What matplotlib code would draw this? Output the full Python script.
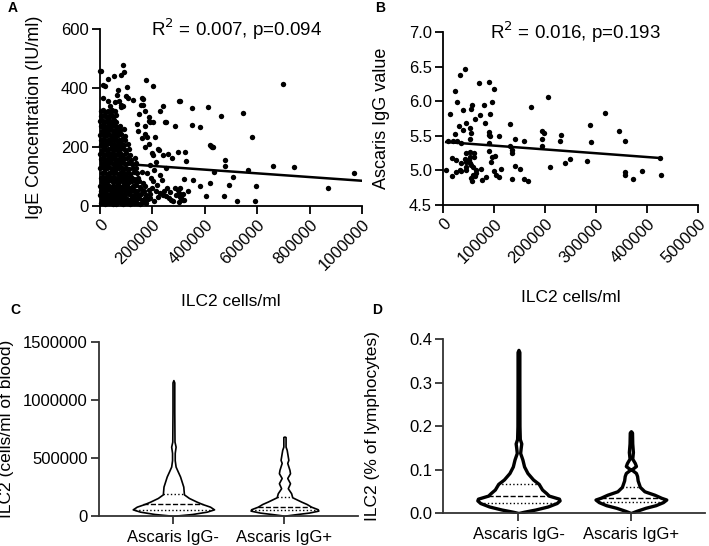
import matplotlib
matplotlib.use("Agg")
import matplotlib.pyplot as plt
import numpy as np

# ---- panel A: ILC2 cells/ml vs IgE (x in thousands of cells/ml, IgE IU/ml)
A_POINTS = [
    (3, 9), (11, 14), (19, 6), (26, 12), (34, 8), (41, 15), (48, 5), (57, 11), (63, 7), (72, 13), (80, 9),
    (88, 6), (95, 14), (104, 10), (113, 5), (121, 12), (130, 8), (142, 11), (151, 6), (163, 13), (176, 9),
    (6, 24), (14, 20), (23, 27), (30, 22), (38, 26), (46, 21), (52, 28), (61, 23), (69, 25), (77, 20),
    (85, 27), (92, 22), (101, 26), (109, 21), (118, 24), (127, 28), (138, 22), (149, 26), (160, 20), (170, 25), (183, 23),
    (2, 38), (9, 41), (17, 35), (25, 40), (33, 36), (44, 42), (50, 37), (58, 40), (66, 35), (74, 41), (83, 38),
    (90, 36), (99, 42), (112, 39), (124, 35), (133, 41), (146, 37), (158, 40), (174, 36), (190, 39),
    (5, 52), (13, 55), (21, 50), (29, 56), (37, 53), (45, 51), (54, 55), (62, 50), (71, 54), (79, 52),
    (87, 56), (96, 51), (105, 54), (117, 50), (129, 55), (141, 52), (156, 56), (168, 51), (185, 54),
    (1, 66), (10, 63), (18, 69), (27, 64), (35, 68), (43, 62), (51, 67), (60, 65), (68, 70), (76, 63),
    (86, 67), (94, 64), (103, 69), (115, 62), (126, 66), (139, 70), (152, 64), (171, 67),
    (7, 80), (15, 85), (24, 79), (31, 83), (40, 86), (49, 81), (57, 84), (65, 78), (73, 82), (82, 86),
    (91, 79), (100, 83), (110, 80), (122, 85), (136, 81), (150, 84), (165, 78),
    (3, 95), (12, 99), (20, 93), (28, 97), (36, 100), (44, 94), (53, 98), (62, 92), (70, 96), (79, 100),
    (88, 93), (97, 97), (108, 95), (119, 99), (131, 92), (144, 96),
    (8, 111), (16, 115), (25, 109), (33, 113), (42, 116), (50, 110), (59, 114), (67, 108), (75, 112),
    (84, 116), (93, 110), (104, 113), (116, 109), (128, 115), (143, 111), (160, 114),
    (2, 127), (11, 131), (19, 125), (27, 129), (36, 132), (45, 126), (54, 130), (63, 124), (71, 128),
    (80, 132), (89, 126), (99, 130), (112, 125), (125, 129), (138, 127),
    (6, 143), (14, 147), (22, 141), (31, 145), (39, 148), (48, 142), (56, 146), (65, 140), (74, 144),
    (83, 148), (94, 142), (107, 146), (121, 141), (137, 145),
    (4, 159), (12, 163), (20, 157), (29, 161), (37, 164), (46, 158), (55, 162), (63, 156), (72, 160),
    (81, 164), (92, 158), (104, 162), (118, 157), (135, 161),
    (1, 175), (9, 179), (17, 173), (26, 177), (34, 180), (43, 174), (51, 178), (60, 172), (69, 176),
    (78, 180), (88, 174), (101, 178), (115, 173),
    (7, 191), (15, 195), (23, 189), (32, 193), (41, 196), (49, 190), (58, 194), (66, 188), (75, 192),
    (85, 196), (97, 190), (111, 194),
    (3, 207), (11, 211), (20, 205), (28, 209), (37, 212), (45, 206), (54, 210), (62, 204), (71, 208),
    (80, 212), (92, 206), (106, 210),
    (5, 223), (13, 227), (22, 221), (30, 225), (39, 228), (47, 222), (56, 226), (64, 220), (73, 224),
    (83, 228), (96, 222),
    (2, 239), (10, 243), (18, 237), (27, 241), (35, 244), (44, 238), (52, 242), (61, 236), (70, 240),
    (81, 244), (94, 238),
    (6, 255), (15, 259), (23, 253), (32, 257), (40, 260), (49, 254), (57, 258), (66, 252), (77, 256), (90, 260),
    (4, 271), (12, 275), (21, 269), (29, 273), (38, 276), (46, 270), (55, 274), (64, 268), (76, 272),
    (1, 287), (9, 291), (17, 285), (26, 289), (35, 292), (44, 286), (53, 290), (63, 284),
    (5, 304), (14, 309), (24, 301), (33, 306), (42, 310), (51, 302), (60, 307),
    (3, 321), (12, 325), (22, 319), (31, 323), (45, 326), (58, 320),
    # sparse upper / left points
    (174, 427), (203, 405), (87, 476), (93, 454), (0, 456), (32, 431), (53, 442), (79, 445), (13, 410),
    (20, 406), (70, 394), (102, 402), (13, 366), (32, 355), (38, 340), (57, 351), (74, 357), (99, 372),
    (108, 366), (127, 360), (159, 367), (165, 362), (155, 342), (89, 338), (242, 340), (302, 355),
    (248, 286), (286, 270), (140, 279), (172, 271), (191, 283), (203, 286), (66, 377), (80, 343),
    (80, 334), (229, 322), (163, 343), (4, 457),
    # right-hand points
    (697, 414), (305, 356), (350, 331), (412, 334), (462, 304), (547, 315), (349, 274), (380, 269),
    (579, 233), (424, 204), (426, 199), (324, 184), (327, 153), (478, 154), (476, 136), (658, 134),
    (738, 131), (967, 112), (435, 114), (566, 120), (509, 99), (322, 90), (356, 89), (421, 78),
    (383, 66), (490, 71), (594, 67), (869, 60), (336, 50), (405, 34), (472, 32), (522, 17), (590, 15),
    (316, 20), (320, 20), (305, 62), (305, 31),
    # bottom band
    (204, 83), (216, 72), (235, 89), (200, 60), (212, 49), (228, 43), (240, 38), (250, 32), (262, 26),
    (270, 20), (280, 15), (290, 38), (300, 45), (310, 28), (296, 55), (255, 60), (245, 52), (222, 30),
    (205, 18), (190, 25), (268, 48), (285, 62), (302, 12), (318, 40),
    # middle
    (185, 289), (251, 285), (146, 254), (172, 243), (178, 234), (187, 209), (198, 180), (203, 174),
    (223, 192), (226, 188), (242, 171), (261, 177), (274, 161), (299, 182), (420, 208), (429, 201),
    (172, 320), (185, 300), (150, 310), (160, 230), (190, 140), (205, 120), (215, 150), (180, 110),
    (230, 105), (250, 130), (195, 95), (170, 200), (210, 235),
]
A_FIT = (148.0, -6.3e-5)   # intercept, slope
A_FIT_RANGE = (0, 1000000)

# ---- panel B: ILC2 cells/ml vs Ascaris IgG (x in thousands)
B_POINTS = [
    (42, 6.47), (33, 6.38), (23, 6.15), (27, 5.99), (13, 5.81), (71, 6.26), (89, 6.27), (100, 6.17),
    (96, 5.99), (80, 5.95), (56, 5.95), (55, 5.89), (39, 5.87), (173, 5.91), (205, 6.06), (318, 5.83),
    (288, 5.65), (131, 5.67), (92, 5.81), (72, 5.80), (63, 5.74), (82, 5.69), (44, 5.68), (31, 5.64),
    (52, 5.61), (39, 5.58), (23, 5.53), (10, 5.42), (20, 5.42), (27, 5.42), (36, 5.39), (54, 5.54),
    (52, 5.46), (90, 5.56), (90, 5.51), (92, 5.49), (109, 5.50), (140, 5.45), (158, 5.43), (193, 5.57),
    (197, 5.54), (193, 5.46), (193, 5.35), (232, 5.51), (230, 5.42), (290, 5.41), (344, 5.57),
    (357, 5.43), (425, 5.18), (427, 4.94), (357, 4.98), (357, 4.93), (373, 4.88), (390, 4.99),
    (283, 5.14), (239, 5.11), (248, 5.17), (209, 5.05), (140, 5.06), (151, 5.02), (136, 4.87),
    (158, 4.87), (166, 4.84), (136, 5.30), (136, 5.25), (114, 5.02), (109, 4.90), (100, 4.99),
    (103, 4.94), (96, 5.20), (101, 5.21), (90, 5.28), (93, 5.12), (84, 4.91), (75, 5.02), (76, 4.86),
    (64, 5.00), (65, 4.96), (63, 4.92), (55, 4.89), (57, 4.84), (58, 4.93), (55, 5.08), (58, 5.05),
    (61, 5.25), (61, 5.19), (52, 5.19), (50, 5.15), (52, 5.11), (44, 5.25), (42, 5.17), (44, 5.12),
    (36, 5.10), (45, 5.00), (45, 5.05), (36, 4.99), (26, 4.98), (34, 5.00), (17, 4.92), (6, 5.00),
    (17, 5.18), (26, 5.15), (52, 5.27), (89, 5.39), (131, 5.35),
]
B_FIT = (5.413, -5.5e-7)
B_FIT_RANGE = (6000, 425000)

GROUPS = ["Ascaris IgG-", "Ascaris IgG+"]

# ---- panel C violin profiles: (value, half-width in category units)
C_NEG = [
    (0, 0.0), (5000, 0.04), (17000, 0.17), (37000, 0.30), (57000, 0.366), (80000, 0.33),
    (103000, 0.26), (123000, 0.21), (155000, 0.14), (186000, 0.095), (253000, 0.089),
    (310000, 0.07), (340000, 0.06), (382000, 0.04), (425000, 0.02), (480000, 0.012),
    (543000, 0.012), (597000, 0.02), (640000, 0.01), (900000, 0.008), (1150000, 0.008), (1170000, 0.0),
]
C_POS = [
    (0, 0.0), (5000, 0.02), (15000, 0.10), (29000, 0.22), (46000, 0.305), (58000, 0.30),
    (80000, 0.24), (103000, 0.20), (124000, 0.15), (161000, 0.07), (196000, 0.06), (239000, 0.03),
    (282000, 0.05), (327000, 0.025), (368000, 0.05), (397000, 0.045), (457000, 0.025),
    (483000, 0.035), (570000, 0.02), (597000, 0.01), (680000, 0.01), (684000, 0.0),
]
C_QUART = [(52000, 100000, 186000), (52000, 80000, 161000)]

# ---- panel D violin profiles
D_NEG = [
    (0.0, 0.0), (0.003, 0.05), (0.008, 0.15), (0.015, 0.26), (0.023, 0.34), (0.029, 0.366),
    (0.033, 0.36), (0.040, 0.27), (0.046, 0.246), (0.054, 0.21), (0.067, 0.18), (0.077, 0.13),
    (0.092, 0.08), (0.107, 0.05), (0.123, 0.035), (0.138, 0.015), (0.150, 0.02), (0.160, 0.025),
    (0.170, 0.012), (0.200, 0.009), (0.300, 0.008), (0.370, 0.008), (0.375, 0.0),
]
D_POS = [
    (0.0, 0.0), (0.002, 0.02), (0.005, 0.05), (0.012, 0.13), (0.018, 0.22), (0.025, 0.285),
    (0.031, 0.315), (0.035, 0.27), (0.042, 0.21), (0.050, 0.12), (0.060, 0.08), (0.075, 0.06),
    (0.085, 0.055), (0.092, 0.045), (0.100, 0.005), (0.108, 0.045), (0.115, 0.035), (0.125, 0.012),
    (0.140, 0.018), (0.160, 0.012), (0.185, 0.01), (0.188, 0.0),
]
D_QUART = [(0.023, 0.040, 0.067), (0.025, 0.035, 0.060)]


def style_axes(ax, color="black"):
    for side in ["top", "right"]:
        ax.spines[side].set_visible(False)
    for side in ["left", "bottom"]:
        ax.spines[side].set_linewidth(1.3)
        ax.spines[side].set_color(color)
    ax.tick_params(direction="out", length=6, width=1.3, color=color, labelsize=12, pad=2)


def scatter_panel(ax, points, fit, fit_range, xticks, yticks, yfmt, ylabel, title):
    x = np.array([p[0] for p in points]) * 1000
    y = np.array([p[1] for p in points])
    ax.scatter(x, y, s=15, color="black", linewidths=0, clip_on=False, zorder=3)
    xs = np.array(fit_range)
    ax.plot(xs, fit[0] + fit[1] * xs, color="black", lw=1.8, zorder=4)
    ax.set_xlim(xticks[0], xticks[-1])
    ax.set_ylim(yticks[0], yticks[-1])
    ax.set_xticks(xticks, [str(t) for t in xticks], rotation=45, ha="right", rotation_mode="anchor")
    ax.set_yticks(yticks, [yfmt.format(t) for t in yticks])
    ax.set_xlabel("ILC2 cells/ml", fontsize=12.5)
    ax.set_ylabel(ylabel, fontsize=13)
    ax.text(0.52, 1.0, title, transform=ax.transAxes, fontsize=13.5, ha="center", va="center")
    style_axes(ax)


def violin_panel(ax, profiles, quarts, lw, yticks, yfmt, ylabel):
    for i, (prof, q) in enumerate(zip(profiles, quarts)):
        v = np.array([p[0] for p in prof])
        w = np.array([p[1] for p in prof])
        ax.fill_betweenx(v, i - w, i + w, facecolor="white", edgecolor="black", lw=lw, zorder=2)
        for val, ls in zip(q, [":", "--", ":"]):
            half = np.interp(val, v, w)
            ax.plot([i - half, i + half], [val, val], color="black", ls=ls, lw=1.0, zorder=3)
    ax.set_xlim(-0.67, 1.66)
    ax.set_ylim(yticks[0], yticks[-1])
    ax.set_xticks(range(len(GROUPS)), GROUPS)
    ax.set_yticks(yticks, [yfmt.format(t) for t in yticks])
    ax.set_ylabel(ylabel, fontsize=12.5)
    style_axes(ax, "#333333")
    ax.tick_params(axis="x", pad=4)


def main() -> None:
    plt.rcParams.update({"font.family": ["Liberation Sans", "DejaVu Sans"]})
    fig = plt.figure(figsize=(7.09, 5.46), dpi=100)

    ax_a = fig.add_axes([0.141, 0.623, 0.370, 0.324])
    ax_b = fig.add_axes([0.625, 0.6245, 0.3597, 0.317])
    ax_c = fig.add_axes([0.1396, 0.055, 0.365, 0.319])
    ax_d = fig.add_axes([0.625, 0.0604, 0.3695, 0.3187])

    scatter_panel(ax_a, A_POINTS, A_FIT, A_FIT_RANGE,
                  [0, 200000, 400000, 600000, 800000, 1000000], [0, 200, 400, 600], "{:d}",
                  "IgE Concentration (IU/ml)", "R$^2$ = 0.007, p=0.094")
    scatter_panel(ax_b, B_POINTS, B_FIT, B_FIT_RANGE,
                  [0, 100000, 200000, 300000, 400000, 500000], [4.5, 5.0, 5.5, 6.0, 6.5, 7.0], "{:.1f}",
                  "Ascaris IgG value", "R$^2$ = 0.016, p=0.193")
    ax_a.yaxis.set_label_coords(-0.218, 0.5)
    ax_a.xaxis.set_label_coords(0.5, -0.50)
    ax_b.yaxis.set_label_coords(-0.21, 0.5)
    ax_b.xaxis.set_label_coords(0.5, -0.49)

    violin_panel(ax_c, [C_NEG, C_POS], C_QUART, 1.2,
                 [0, 500000, 1000000, 1500000], "{:d}", "ILC2 (cells/ml of blood)")
    violin_panel(ax_d, [D_NEG, D_POS], D_QUART, 2.4,
                 [0.0, 0.1, 0.2, 0.3, 0.4], "{:.1f}", "ILC2 (% of lymphocytes)")
    ax_c.yaxis.set_label_coords(-0.33, 0.5)
    ax_d.yaxis.set_label_coords(-0.24, 0.5)

    for label, x, y in [("A", 13, 8), ("B", 380, 8), ("C", 15, 310), ("D", 377, 310)]:
        fig.text(x / 709, 1 - y / 546, label, fontsize=10, fontweight="bold", ha="center", va="center")

    fig.savefig("out.png", dpi=100)


if __name__ == "__main__":
    main()
